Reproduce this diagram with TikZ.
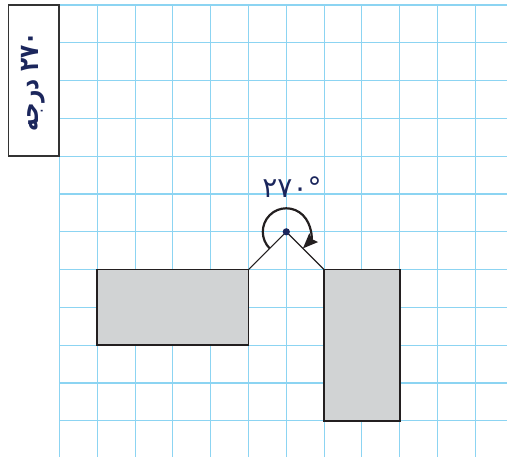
\documentclass[tikz,border=0pt]{standalone}
\usepackage{fontspec}
\usepackage{graphicx}
\TeXXeTstate=1
\newfontfamily\arabicfont[Script=Arabic]{DejaVu Sans}
\newfontfamily\digitfont{DejaVu Sans}
\usetikzlibrary{arrows.meta}
\definecolor{gridblue}{RGB}{140,212,242}
\definecolor{shapegray}{RGB}{209,211,212}
\definecolor{edgedark}{RGB}{35,31,32}
\definecolor{navy}{RGB}{27,38,92}
\tikzset{
  gridline/.style={draw=gridblue, line width=1.1pt},
  shapebox/.style={fill=shapegray, draw=edgedark, line width=1.8pt},
  armline/.style={draw=edgedark, line width=1.2pt},
  turnarc/.style={draw=edgedark, line width=2.2pt, -{Stealth[length=15pt,width=12pt,inset=2pt]}},
  labelbox/.style={draw=black!80, line width=1.4pt, fill=white},
}
\begin{document}
\begin{tikzpicture}[x=1pt,y=1pt]
\useasboundingbox (0,0) rectangle (507,-457);
% grid
\foreach \j in {0,...,11} {
  \draw[gridline] (59.5,{-5-37.8*\j}) -- (507,{-5-37.8*\j});
}
\foreach \i in {0,...,11} {
  \draw[gridline] ({59.5+37.8*\i},-5) -- ({59.5+37.8*\i},-457);
}
% label box
\draw[labelbox] (8.5,-5) rectangle (59,-156);
\node[rotate=90, text=navy, font=\arabicfont\bfseries\fontsize{27}{30}\selectfont] (lbl) at (33,-81.5) {\scalebox{0.8}[1]{\beginR ۲۷۰ درجه\endR}};
% shapes
\coordinate (V) at (286.3,-231.8);
\coordinate (L1) at (97.3,-269.6);
\coordinate (L2) at (248.5,-345.2);
\coordinate (LC) at (248.5,-269.6);
\coordinate (R1) at (324.1,-269.6);
\coordinate (R2) at (399.7,-420.8);
\draw[shapebox] (L1) rectangle (L2);
\draw[shapebox] (R1) rectangle (R2);
\draw[armline] (LC) -- (V) -- (R1);
\draw[turnarc] ([shift={(225:23.5)}]V) arc[start angle=225, end angle=-45, radius=23.5];
\fill[navy] (V) circle[radius=3.6];
\node[anchor=base, text=navy, font=\digitfont\fontsize{28}{30}\selectfont, inner sep=0pt] (ang) at (292,-198) {۲۷۰°};
\end{tikzpicture}
\end{document}
